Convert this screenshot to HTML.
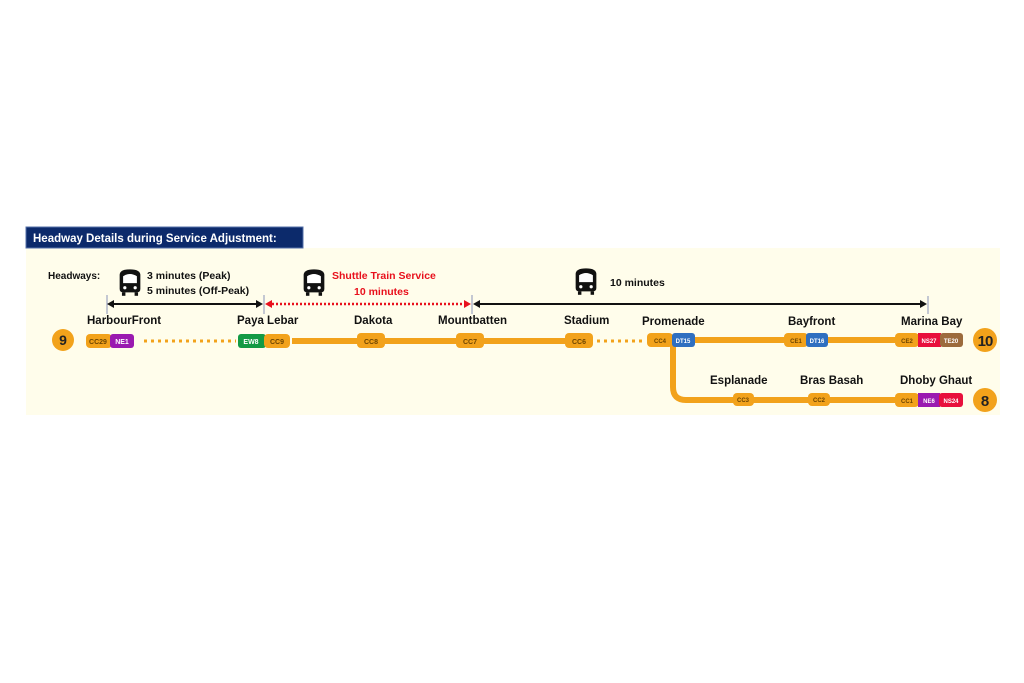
<!DOCTYPE html>
<html><head><meta charset="utf-8"><style>
html,body{margin:0;padding:0;background:#fff;}
svg{display:block;font-family:"Liberation Sans",sans-serif;font-weight:bold;}
</style></head><body>
<svg width="1024" height="683" viewBox="0 0 1024 683" xmlns="http://www.w3.org/2000/svg">
<defs>
<g id="train">
<path d="M-9,-6 Q-9,-11 0,-11 Q9,-11 9,-6 L9,6 Q9,9 6,9 L-6,9 Q-9,9 -9,6 Z" fill="#111"/>
<path d="M-6,-5 Q0,-9 6,-5 L6,1 L-6,1 Z" fill="#fff"/>
<rect x="-7" y="9" width="3" height="3" fill="#111"/><rect x="4" y="9" width="3" height="3" fill="#111"/>
<circle cx="-4.5" cy="5" r="1.4" fill="#fff"/><circle cx="4.5" cy="5" r="1.4" fill="#fff"/>
</g>
</defs>
<rect x="26" y="248" width="974" height="167" fill="#fffdeb"/>
<rect x="26" y="227" width="277" height="21" fill="#0c2a6b" stroke="#5570a8" stroke-width="1"/>
<text x="33" y="242" font-size="11.5" fill="#fff">Headway Details during Service Adjustment:</text>

<text x="48" y="279" font-size="10" fill="#111">Headways:</text>
<use href="#train" transform="translate(130,282) scale(1.15)"/>
<use href="#train" transform="translate(314,282) scale(1.15)"/>
<use href="#train" transform="translate(586,281) scale(1.15)"/>
<text x="147" y="279" font-size="10.5" fill="#111">3 minutes (Peak)</text>
<text x="147" y="294" font-size="10.5" fill="#111">5 minutes (Off-Peak)</text>
<text x="332" y="279" font-size="10.5" fill="#e8101c">Shuttle Train Service</text>
<text x="354" y="295" font-size="10.5" fill="#e8101c">10 minutes</text>
<text x="610" y="286" font-size="10.5" fill="#111">10 minutes</text>

<g stroke="#8a93b8" stroke-width="1">
<line x1="107" y1="295" x2="107" y2="314"/><line x1="264" y1="295" x2="264" y2="314"/>
<line x1="472" y1="295" x2="472" y2="314"/><line x1="928" y1="296" x2="928" y2="314"/>
</g>
<line x1="112" y1="304" x2="258" y2="304" stroke="#111" stroke-width="2"/>
<path d="M107,304 l7,-4 v8z M263,304 l-7,-4 v8z" fill="#111"/>
<line x1="272" y1="304" x2="466" y2="304" stroke="#e8101c" stroke-width="2.5" stroke-dasharray="2 2"/>
<path d="M265,304 l7,-4 v8z M471,304 l-7,-4 v8z" fill="#e8101c"/>
<line x1="479" y1="304" x2="922" y2="304" stroke="#111" stroke-width="2"/>
<path d="M473,304 l7,-4 v8z M927,304 l-7,-4 v8z" fill="#111"/>

<g font-size="11.5" fill="#111">
<text x="87" y="324">HarbourFront</text>
<text x="237" y="324">Paya Lebar</text>
<text x="354" y="324">Dakota</text>
<text x="438" y="324">Mountbatten</text>
<text x="564" y="324">Stadium</text>
<text x="642" y="325">Promenade</text>
<text x="788" y="325">Bayfront</text>
<text x="901" y="325">Marina Bay</text>
<text x="710" y="384">Esplanade</text>
<text x="800" y="384">Bras Basah</text>
<text x="900" y="384">Dhoby Ghaut</text>
</g>

<g stroke="#f2a21b" fill="none">
<line x1="144" y1="341" x2="236" y2="341" stroke-width="3" stroke-dasharray="3 4"/>
<line x1="292" y1="341" x2="357" y2="341" stroke-width="6"/>
<line x1="385" y1="341" x2="456" y2="341" stroke-width="6"/>
<line x1="484" y1="341" x2="565" y2="341" stroke-width="6"/>
<line x1="597" y1="341" x2="646" y2="341" stroke-width="3" stroke-dasharray="3 4"/>
<line x1="695" y1="340" x2="784" y2="340" stroke-width="6"/>
<line x1="828" y1="340" x2="895" y2="340" stroke-width="6"/>
<path d="M673,345 V387 Q673,400 686,400 H895" stroke-width="6"/>
</g>

<g font-size="7" text-anchor="middle" font-weight="bold">
<rect x="86" y="334" width="26" height="14" rx="4" fill="#f2a21b"/><rect x="110" y="334" width="24" height="14" rx="3" fill="#9a1ab0"/>
<text x="98" y="344" fill="#6b4400">CC29</text><text x="122" y="344" fill="#fff">NE1</text>
<rect x="238" y="334" width="28" height="14" rx="3" fill="#139a44"/><rect x="264" y="334" width="26" height="14" rx="4" fill="#f2a21b"/>
<text x="251" y="344" fill="#fff">EW8</text><text x="277" y="344" fill="#6b4400">CC9</text>
<rect x="357" y="333" width="28" height="15" rx="4" fill="#f2a21b"/><text x="371" y="344" fill="#6b4400">CC8</text>
<rect x="456" y="333" width="28" height="15" rx="4" fill="#f2a21b"/><text x="470" y="344" fill="#6b4400">CC7</text>
<rect x="565" y="333" width="28" height="15" rx="4" fill="#f2a21b"/><text x="579" y="344" fill="#6b4400">CC6</text>
<rect x="647" y="333" width="26" height="14" rx="4" fill="#f2a21b"/><rect x="672" y="333" width="23" height="14" rx="3" fill="#2f6fc0"/>
<text x="660" y="343" fill="#6b4400" font-size="6">CC4</text><text x="683" y="343" fill="#fff" font-size="6">DT15</text>
<rect x="784" y="333" width="24" height="14" rx="4" fill="#f2a21b"/><rect x="806" y="333" width="22" height="14" rx="3" fill="#2f6fc0"/>
<text x="796" y="343" fill="#6b4400" font-size="6">CE1</text><text x="817" y="343" fill="#fff" font-size="6">DT16</text>
<rect x="895" y="333" width="24" height="14" rx="4" fill="#f2a21b"/><rect x="918" y="333" width="23" height="14" fill="#e8103c"/><rect x="940" y="333" width="23" height="14" rx="3" fill="#9c6b3c"/>
<text x="907" y="343" fill="#6b4400" font-size="6">CE2</text><text x="929" y="343" fill="#fff" font-size="6">NS27</text><text x="951" y="343" fill="#fff" font-size="6">TE20</text>
<rect x="733" y="393" width="21" height="13" rx="4" fill="#f2a21b"/><text x="743" y="402" fill="#6b4400" font-size="6">CC3</text>
<rect x="808" y="393" width="22" height="13" rx="4" fill="#f2a21b"/><text x="819" y="402" fill="#6b4400" font-size="6">CC2</text>
<rect x="895" y="393" width="24" height="14" rx="4" fill="#f2a21b"/><rect x="918" y="393" width="22" height="14" fill="#9a1ab0"/><rect x="939" y="393" width="24" height="14" rx="3" fill="#e8103c"/>
<text x="907" y="403" fill="#6b4400" font-size="6">CC1</text><text x="929" y="403" fill="#fff" font-size="6">NE6</text><text x="951" y="403" fill="#fff" font-size="6">NS24</text>
</g>

<circle cx="63" cy="340" r="11" fill="#f2a21b"/><text x="63" y="345" font-size="14" text-anchor="middle" fill="#222">9</text>
<circle cx="985" cy="340" r="12" fill="#f2a21b"/><text x="985" y="346" font-size="15" text-anchor="middle" fill="#222" letter-spacing="-1">10</text>
<circle cx="985" cy="400" r="12" fill="#f2a21b"/><text x="985" y="406" font-size="15" text-anchor="middle" fill="#222">8</text>
</svg>
</body></html>
